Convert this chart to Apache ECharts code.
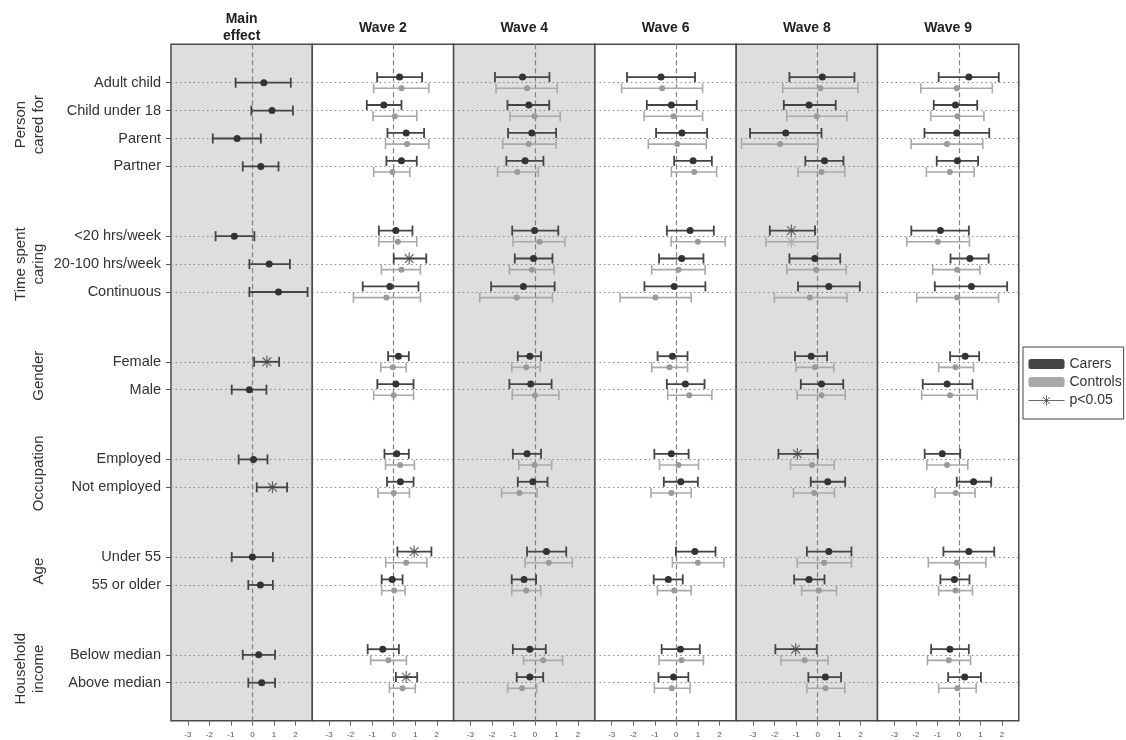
<!DOCTYPE html>
<html><head><meta charset="utf-8">
<script src="https://cdn.jsdelivr.net/npm/echarts@6/dist/echarts.min.js"></script>
<style>html,body{margin:0;padding:0;background:#fff}#c{width:1126px;height:740px}</style>
</head><body><div id="c"></div>
<script>
const FONT = '"Liberation Sans", Arial, Helvetica, sans-serif';

// ---------- labels ----------
const panelTitles = ['Main\neffect', 'Wave 2', 'Wave 4', 'Wave 6', 'Wave 8', 'Wave 9'];
const groupNames = ['Person\ncared for', 'Time spent\ncaring', 'Gender', 'Occupation', 'Age', 'Household\nincome'];
const groupRows = [
  ['Adult child', 'Child under 18', 'Parent', 'Partner'],
  ['<20 hrs/week', '20-100 hrs/week', 'Continuous'],
  ['Female', 'Male'],
  ['Employed', 'Not employed'],
  ['Under 55', '55 or older'],
  ['Below median', 'Above median']
];
const xTicks = [-3, -2, -1, 0, 1, 2];

// ---------- data: [lower, estimate, upper] per row ----------
const mainEffect = [
  [-0.78, 0.53, 1.78], [-0.05, 0.91, 1.88], [-1.84, -0.71, 0.39], [-0.45, 0.39, 1.21],
  [-1.71, -0.84, 0.09], [-0.14, 0.78, 1.74], [-0.14, 1.21, 2.56],
  [0.08, 0.67, 1.24], [-0.96, -0.14, 0.65],
  [-0.64, 0.05, 0.70], [0.20, 0.93, 1.61],
  [-0.96, 0.00, 0.95], [-0.19, 0.37, 0.95],
  [-0.45, 0.29, 1.05], [-0.19, 0.43, 1.05]
];
const wave2Carers = [
  [-0.77, 0.27, 1.32], [-1.25, -0.46, 0.36], [-0.29, 0.58, 1.41], [-0.34, 0.36, 1.07],
  [-0.69, 0.10, 0.87], [0.00, 0.72, 1.51], [-1.44, -0.18, 1.15],
  [-0.26, 0.22, 0.70], [-0.76, 0.10, 0.92],
  [-0.43, 0.14, 0.70], [-0.31, 0.31, 0.92],
  [0.17, 0.95, 1.75], [-0.56, -0.07, 0.41],
  [-1.21, -0.51, 0.24], [0.10, 0.58, 1.09]
];
const wave2Controls = [
  [-0.93, 0.36, 1.63], [-0.96, 0.05, 1.07], [-0.38, 0.62, 1.63], [-0.93, -0.06, 0.75],
  [-0.69, 0.19, 1.07], [-0.57, 0.36, 1.24], [-1.87, -0.34, 1.24],
  [-0.60, -0.04, 0.58], [-0.93, 0.00, 0.92],
  [-0.38, 0.30, 0.96], [-0.73, 0.00, 0.73],
  [-0.37, 0.58, 1.54], [-0.56, 0.02, 0.53],
  [-1.07, -0.25, 0.59], [-0.20, 0.41, 1.00]
];
const wave4Carers = [
  [-1.86, -0.58, 0.67], [-1.28, -0.29, 0.66], [-1.25, -0.15, 0.98], [-1.33, -0.46, 0.39],
  [-1.06, -0.02, 1.08], [-0.94, -0.07, 0.81], [-2.04, -0.54, 0.91],
  [-0.80, -0.24, 0.28], [-1.19, -0.20, 0.77],
  [-1.03, -0.37, 0.28], [-0.80, -0.10, 0.58],
  [-0.37, 0.53, 1.45], [-1.08, -0.51, 0.05],
  [-1.03, -0.24, 0.50], [-0.85, -0.24, 0.38]
];
const wave4Controls = [
  [-1.81, -0.37, 1.03], [-1.16, -0.02, 1.17], [-1.50, -0.29, 0.98], [-1.74, -0.82, 0.15],
  [-1.02, 0.21, 1.39], [-1.19, -0.15, 0.89], [-2.57, -0.85, 0.81],
  [-1.08, -0.41, 0.24], [-1.06, 0.00, 1.11],
  [-0.75, -0.02, 0.77], [-1.55, -0.72, 0.10],
  [-0.46, 0.64, 1.73], [-1.08, -0.41, 0.27],
  [-0.53, 0.38, 1.28], [-1.27, -0.60, 0.08]
];
const wave6Carers = [
  [-2.29, -0.71, 0.87], [-1.37, -0.23, 0.95], [-0.94, 0.26, 1.43], [-0.10, 0.78, 1.65],
  [-0.44, 0.64, 1.74], [-0.80, 0.25, 1.26], [-1.48, -0.10, 1.35],
  [-0.87, -0.18, 0.52], [-0.44, 0.42, 1.31],
  [-1.02, -0.23, 0.57], [-0.58, 0.21, 1.00],
  [-0.02, 0.86, 1.82], [-1.05, -0.37, 0.30],
  [-0.68, 0.19, 1.09], [-0.83, -0.13, 0.56]
];
const wave6Controls = [
  [-2.54, -0.66, 1.22], [-1.50, -0.13, 1.22], [-1.30, 0.04, 1.39], [-0.23, 0.83, 1.87],
  [-0.24, 1.00, 2.27], [-1.14, 0.10, 1.34], [-2.61, -0.97, 0.69],
  [-1.14, -0.32, 0.52], [-0.40, 0.60, 1.65],
  [-0.78, 0.10, 1.03], [-1.18, -0.23, 0.69],
  [-0.18, 1.00, 2.21], [-0.88, -0.10, 0.69],
  [-0.80, 0.24, 1.26], [-1.02, -0.21, 0.64]
];
const wave8Carers = [
  [-1.31, 0.22, 1.71], [-1.57, -0.40, 0.84], [-3.14, -1.48, 0.18], [-0.57, 0.32, 1.20],
  [-2.22, -1.22, -0.12], [-1.31, -0.13, 1.05], [-0.91, 0.52, 1.96],
  [-1.05, -0.30, 0.44], [-0.78, 0.18, 1.19],
  [-1.82, -0.94, 0.01], [-0.32, 0.47, 1.28],
  [-0.50, 0.52, 1.57], [-1.09, -0.40, 0.32],
  [-1.96, -1.02, -0.04], [-0.43, 0.36, 1.09]
];
const wave8Controls = [
  [-1.62, 0.13, 1.87], [-1.43, -0.04, 1.36], [-3.53, -1.74, 0.02], [-0.91, 0.18, 1.26],
  [-2.40, -1.22, 0.01], [-1.43, -0.07, 1.33], [-2.01, -0.36, 1.36],
  [-1.00, -0.12, 0.75], [-0.95, 0.18, 1.28],
  [-1.26, -0.26, 0.77], [-1.12, -0.16, 0.78],
  [-0.95, 0.30, 1.57], [-0.74, 0.05, 0.88],
  [-1.70, -0.60, 0.49], [-0.50, 0.36, 1.26]
];
const wave9Carers = [
  [-0.94, 0.46, 1.85], [-1.17, -0.16, 0.85], [-1.60, -0.10, 1.41], [-1.03, -0.07, 0.89],
  [-2.21, -0.86, 0.46], [-0.39, 0.51, 1.38], [-1.12, 0.58, 2.24],
  [-0.41, 0.29, 0.94], [-1.68, -0.55, 0.63],
  [-1.59, -0.77, 0.06], [-0.10, 0.68, 1.50],
  [-0.72, 0.46, 1.64], [-0.86, -0.21, 0.49],
  [-1.29, -0.42, 0.46], [-0.50, 0.27, 1.02]
];
const wave9Controls = [
  [-1.77, -0.10, 1.55], [-1.31, -0.07, 1.16], [-2.22, -0.55, 1.11], [-1.51, -0.42, 0.71],
  [-2.42, -0.98, 0.49], [-1.22, -0.08, 0.97], [-1.96, -0.08, 1.84],
  [-0.94, -0.16, 0.68], [-1.73, -0.41, 0.85],
  [-1.49, -0.55, 0.41], [-1.11, -0.15, 0.75],
  [-1.42, -0.10, 1.25], [-0.94, -0.16, 0.63],
  [-1.46, -0.47, 0.54], [-0.94, -0.07, 0.80]
];
// rows (index) significant at p<0.05
const mainSig = [7, 10];
const wave2Sig = [5, 11, 14];
const wave8Sig = [4, 9, 13];
const wave8ControlsSig = [4];

// ---------- layout ----------
const panels = [
  { carers: mainEffect, controls: null, sig: mainSig, sigC: [], shaded: true },
  { carers: wave2Carers, controls: wave2Controls, sig: wave2Sig, sigC: [], shaded: false },
  { carers: wave4Carers, controls: wave4Controls, sig: [], sigC: [], shaded: true },
  { carers: wave6Carers, controls: wave6Controls, sig: [], sigC: [], shaded: false },
  { carers: wave8Carers, controls: wave8Controls, sig: wave8Sig, sigC: wave8ControlsSig, shaded: true },
  { carers: wave9Carers, controls: wave9Controls, sig: [], sigC: [], shaded: false }
];

const rowLabels = [], rowPos = [], groupSpan = [];
let pos = 0;
groupRows.forEach((rows, gi) => {
  if (gi > 0) pos += 1.5;
  const start = pos;
  rows.forEach(r => { rowLabels.push(r); rowPos.push(pos); pos += 1; });
  groupSpan.push([start, pos - 1]);
});

const GRID_LEFT = 171, PW = 141.3, GRID_TOP = 44.3, GRID_H = 676.4;
const X_MIN = -3.78, X_MAX = 2.78, Y_MIN = -1.376, Y_MAX = 22.862;
const CARER_COL = '#444444', CARER_DOT = '#333333';
const CTRL_COL = '#a9a9a9', CTRL_DOT = '#9a9a9a';
const STAR = 'path://M0,-6L0,6M-6,0L6,0M-4.3,-4.3L4.3,4.3M-4.3,4.3L4.3,-4.3';

function barRenderer(offset, color, width) {
  return function (params, api) {
    const y = api.value(3) + offset;
    const a = api.coord([api.value(0), y]);
    const b = api.coord([api.value(2), y]);
    const h = 5;
    const st = { stroke: color, lineWidth: width };
    return { type: 'group', children: [
      { type: 'line', shape: { x1: a[0], y1: a[1], x2: b[0], y2: b[1] }, style: st },
      { type: 'line', shape: { x1: a[0], y1: a[1] - h, x2: a[0], y2: a[1] + h }, style: st },
      { type: 'line', shape: { x1: b[0], y1: b[1] - h, x2: b[0], y2: b[1] + h }, style: st }
    ]};
  };
}

const grids = [], xAxes = [], yAxes = [], series = [];
panels.forEach((p, i) => {
  grids.push({
    left: GRID_LEFT + i * PW, top: GRID_TOP, width: PW, height: GRID_H,
    show: true, backgroundColor: p.shaded ? '#dedede' : '#ffffff',
    borderColor: '#4a4a4a', borderWidth: 1.5
  });
  xAxes.push({
    gridIndex: i, type: 'value', min: X_MIN, max: X_MAX, position: 'bottom',
    axisLine: { show: false, onZero: false }, splitLine: { show: false },
    axisTick: { show: true, length: 5, customValues: xTicks, lineStyle: { color: '#666', width: 1 } },
    axisLabel: { show: true, customValues: xTicks, fontSize: 8, color: '#555', margin: 10, fontFamily: FONT }
  });
  yAxes.push({
    gridIndex: i, type: 'value', inverse: true, min: Y_MIN, max: Y_MAX, position: 'left',
    show: i === 0,
    axisLine: { show: false, onZero: false }, splitLine: { show: false },
    axisTick: { show: i === 0, length: 5, customValues: rowPos, lineStyle: { color: '#555', width: 1 } },
    axisLabel: {
      show: i === 0, customValues: rowPos, fontSize: 14.5, color: '#333', margin: 10, fontFamily: FONT,
      formatter: v => { const k = rowPos.findIndex(r => Math.abs(r - v) < 1e-6); return k >= 0 ? rowLabels[k] : ''; }
    }
  });

  const cOff = p.controls ? -0.2 : 0;
  const refLines = {
    silent: true, symbol: 'none', z: 1, label: { show: false },
    data: rowPos.map(r => ({ yAxis: r, lineStyle: { color: '#858585', width: 1.2, type: [1.5, 3] } }))
      .concat([{ xAxis: 0, lineStyle: { color: '#808080', width: 1.2, type: [5, 3] } }]),
    animation: false
  };

  if (p.controls) {
    series.push({
      name: 'Controls', type: 'custom', xAxisIndex: i, yAxisIndex: i, z: 2,
      renderItem: barRenderer(0.2, CTRL_COL, 1.6),
      encode: { x: [0, 1, 2], y: 3 },
      data: p.controls.map((d, k) => [d[0], d[1], d[2], rowPos[k]]),
      markLine: refLines
    });
    series.push({
      name: 'Controls', type: 'scatter', xAxisIndex: i, yAxisIndex: i, z: 3,
      symbolSize: 6, itemStyle: { color: CTRL_DOT, opacity: 1 },
      data: p.controls.map((d, k) => [d[1], rowPos[k] + 0.2]).filter((d, k) => !p.sigC.includes(k))
    });
    if (p.sigC.length) series.push({
      name: 'p<0.05', type: 'scatter', xAxisIndex: i, yAxisIndex: i, z: 3,
      symbol: STAR, symbolSize: 12,
      itemStyle: { color: 'none', borderColor: CTRL_COL, borderWidth: 1.2 },
      data: p.sigC.map(k => [p.controls[k][1], rowPos[k] + 0.2])
    });
  }
  series.push({
    name: 'Carers', type: 'custom', xAxisIndex: i, yAxisIndex: i, z: 4,
    renderItem: barRenderer(cOff, CARER_COL, 1.8),
    encode: { x: [0, 1, 2], y: 3 },
    data: p.carers.map((d, k) => [d[0], d[1], d[2], rowPos[k]]),
    markLine: p.controls ? undefined : refLines
  });
  series.push({
    name: 'Carers', type: 'scatter', xAxisIndex: i, yAxisIndex: i, z: 5,
    symbolSize: 7, itemStyle: { color: CARER_DOT, opacity: 1 },
    data: p.carers.map((d, k) => [d[1], rowPos[k] + cOff]).filter((d, k) => !p.sig.includes(k))
  });
  if (p.sig.length) series.push({
    name: 'p<0.05', type: 'scatter', xAxisIndex: i, yAxisIndex: i, z: 5,
    symbol: STAR, symbolSize: 12,
    itemStyle: { color: 'none', borderColor: CARER_COL, borderWidth: 1.2 },
    data: p.sig.map(k => [p.carers[k][1], rowPos[k] + cOff])
  });
});

const chart = echarts.init(document.getElementById('c'), null, { renderer: 'canvas' });
chart.setOption({
  animation: false,
  backgroundColor: '#ffffff',
  textStyle: { fontFamily: FONT },
  grid: grids, xAxis: xAxes, yAxis: yAxes, series: series,
  legend: {
    orient: 'vertical', left: 1023, top: 347,
    padding: [10, 2, 11, 3], itemGap: 4, itemWidth: 36, itemHeight: 10,
    borderColor: '#444', borderWidth: 1, borderRadius: 0,
    selectedMode: false,
    textStyle: { fontSize: 14, color: '#333', fontFamily: FONT },
    data: [
      { name: 'Carers', icon: 'roundRect', itemStyle: { color: '#444', borderWidth: 0 } },
      { name: 'Controls', icon: 'roundRect', itemStyle: { color: '#a9a9a9', borderWidth: 0 } },
      { name: 'p<0.05', icon: 'path://M0,5L36,5M18,0L18,10M14.5,1.5L21.5,8.5M14.5,8.5L21.5,1.5',
        itemStyle: { color: 'none', borderColor: '#444', borderWidth: 1 } }
    ]
  }
});

// titles and group labels, placed through the axes' own scales
const graphics = [];
panelTitles.forEach((t, i) => {
  const cx = chart.convertToPixel({ xAxisIndex: i }, (X_MIN + X_MAX) / 2);
  graphics.push({
    type: 'text', x: cx, y: 28, silent: true,
    style: { text: t, fontSize: 14, fontWeight: 'bold', fill: '#222', fontFamily: FONT,
      align: 'center', verticalAlign: 'middle', lineHeight: 17 }
  });
});
groupNames.forEach((g, gi) => {
  const mid = (groupSpan[gi][0] + groupSpan[gi][1]) / 2;
  const cy = chart.convertToPixel({ yAxisIndex: 0 }, mid);
  graphics.push({
    type: 'text', x: 48, y: cy, rotation: Math.PI / 2, silent: true,
    style: { text: g, fontSize: 15, fill: '#333', fontFamily: FONT,
      align: 'center', verticalAlign: 'bottom', lineHeight: 18 }
  });
});
chart.setOption({ graphic: graphics });
</script></body></html>
